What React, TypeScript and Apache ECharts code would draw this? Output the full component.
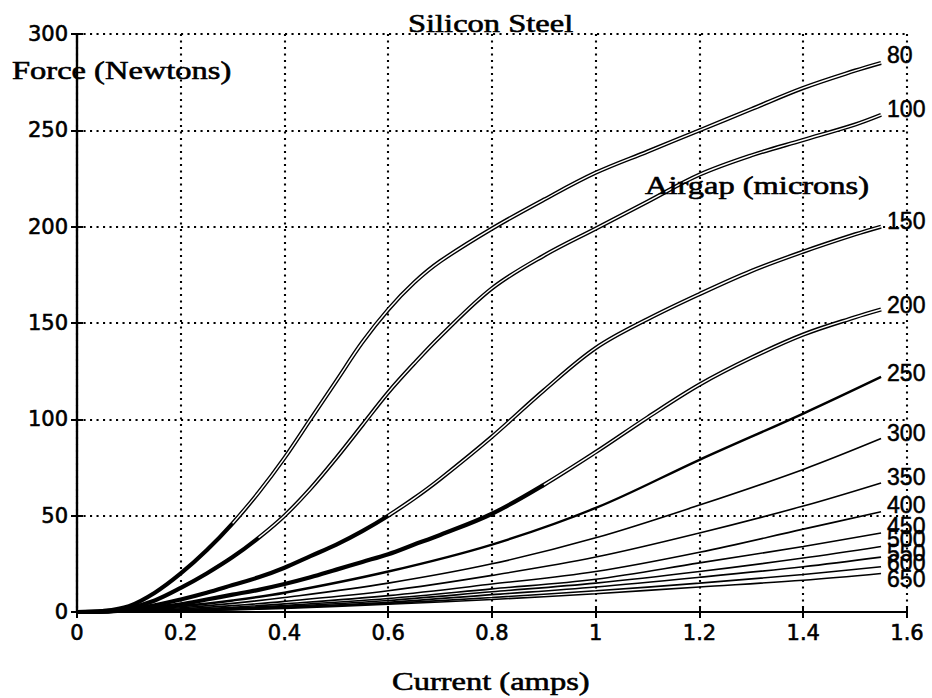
import React, { useEffect, useRef } from "react";
import * as echarts from "echarts";

// Current (amps) sample points
const X_FINE = [0, 0.05, 0.1, 0.15, 0.2, 0.25, 0.3, 0.35, 0.4, 0.45, 0.5, 0.55, 0.6, 0.65, 0.7, 0.8, 0.9, 1.0, 1.1, 1.2, 1.3, 1.4, 1.5, 1.55];
const X_COARSE = [0, 0.1, 0.2, 0.3, 0.4, 0.6, 0.8, 1.0, 1.2, 1.4, 1.55];

// Airgap (microns) for each curve
const AIRGAPS = [80, 100, 150, 200, 250, 300, 350, 400, 450, 500, 550, 600, 650];

// Force (Newtons) per airgap
const FORCE_80 = [0, 0.5, 3, 10, 20, 32, 46, 62, 80, 100, 120, 140, 157, 171, 182, 199, 214, 228, 239, 250, 261, 272, 281, 285];
const FORCE_100 = [0, 0.3, 2, 6, 12.5, 20, 28.5, 38.5, 50, 64, 80, 97, 114, 129, 143, 168, 185, 199, 213, 227, 237, 245, 253, 258];
const FORCE_150 = [0, 0.2, 1.5, 3.5, 6.5, 10, 14, 18, 23, 29, 35, 42, 50, 59, 69, 91, 115, 137, 152, 165, 177, 187, 196, 200];
const FORCE_200 = [0, 0.15, 1, 2.3, 4, 6.5, 9, 11.5, 14.5, 18, 22, 26, 30, 35, 40, 51, 66, 83, 101, 118, 132, 144, 153, 157];
const FORCE_250 = [0, 0.8, 3, 6, 10, 21, 35, 54, 79, 103, 122];
const FORCE_300 = [0, 0.6, 2.2, 4.5, 7.5, 15, 25, 38.5, 55.5, 74, 90];
const FORCE_350 = [0, 0.45, 1.6, 3.3, 5.5, 11, 19, 28.5, 41, 55, 67];
const FORCE_400 = [0, 0.35, 1.2, 2.5, 4.2, 8.5, 14.5, 21, 31, 43, 52];
const FORCE_450 = [0, 0.3, 1, 2, 3.4, 7, 12, 17, 25.5, 34, 41];
const FORCE_500 = [0, 0.25, 0.85, 1.7, 2.9, 6, 10.5, 15, 21, 28, 34];
const FORCE_550 = [0, 0.2, 0.75, 1.5, 2.5, 5, 9, 13, 18, 23.5, 28.5];
const FORCE_600 = [0, 0.18, 0.65, 1.3, 2.2, 4.5, 7.5, 11, 15, 19.5, 23.5];
const FORCE_650 = [0, 0.15, 0.55, 1.1, 1.9, 4, 6.5, 9.5, 13, 16.5, 20];

const X_TICKS = [0, 0.2, 0.4, 0.6, 0.8, 1, 1.2, 1.4, 1.6];
const Y_TICKS = [0, 50, 100, 150, 200, 250, 300];

const FORCES = [FORCE_80, FORCE_100, FORCE_150, FORCE_200, FORCE_250, FORCE_300, FORCE_350, FORCE_400, FORCE_450, FORCE_500, FORCE_550, FORCE_600, FORCE_650];

// drawing style per curve: doubled traces for the low-airgap loops
const DOUBLE_FROM: Record<number, number> = { 80: 0.3, 100: 0.35, 150: 0.6, 200: 0.9 };
const LABEL_DY: Record<number, number> = { 80: -8, 100: -6, 150: -6, 200: -5, 250: -4, 300: -6, 350: -6, 400: -7, 450: -7, 500: -7, 550: -4, 600: -4, 650: 6 };

const SERIF = "'Liberation Serif', 'Times New Roman', serif";
const SANS = "'DejaVu Sans', sans-serif";

function buildSeries() {
  const series: any[] = [];
  AIRGAPS.forEach((gap, i) => {
    const ys = FORCES[i];
    const xs = ys.length === X_FINE.length ? X_FINE : X_COARSE;
    const pts = xs.map((x, k) => [x, ys[k]]);
    const isDouble = DOUBLE_FROM[gap] !== undefined;
    series.push({
      type: "line",
      name: String(gap),
      data: pts,
      smooth: 0.35,
      symbol: "none",
      silent: true,
      z: 3,
      lineStyle: { color: "#000", width: isDouble ? 4.2 : gap === 250 ? 2.4 : 1.6 },
      endLabel: {
        show: true,
        formatter: String(gap),
        color: "#000",
        fontFamily: "'Liberation Sans', Arial, sans-serif",
        fontSize: 23,
        textBorderColor: "#000",
        textBorderWidth: 0.5,
        distance: 6,
        offset: [0, LABEL_DY[gap] || 0],
      },
    });
    if (isDouble) {
      const from = DOUBLE_FROM[gap];
      series.push({
        type: "line",
        data: pts.filter((p) => p[0] >= from),
        smooth: 0.35,
        symbol: "none",
        silent: true,
        z: 4,
        lineStyle: { color: "#fff", width: 1.4 },
      });
    }
  });
  return series;
}

function serifText(text: string, left: number, midY: number) {
  return {
    type: "text",
    x: left,
    y: midY,
    scaleX: 1.25,
    z: 10,
    style: {
      text,
      x: 0,
      y: 0,
      fill: "#000",
      stroke: "#000",
      lineWidth: 0.6,
      font: `26px ${SERIF}`,
      textAlign: "left",
      textVerticalAlign: "middle",
    },
  };
}

export default function App() {
  const ref = useRef<HTMLDivElement>(null);

  useEffect(() => {
    if (!ref.current) return;
    const chart = echarts.init(ref.current, null, { renderer: "svg" });
    const axisLine = { show: true, lineStyle: { color: "#000", width: 2.2 } };
    const tick = { show: true, inside: true, length: 6, lineStyle: { color: "#000", width: 2 } };
    const grid = { show: true, lineStyle: { color: "#000", width: 2.1, type: [2.1, 4.4] } };
    const tickText = {
      color: "#000",
      fontFamily: SANS,
      fontSize: 21,
      textBorderColor: "#000",
      textBorderWidth: 0.6,
    };
    chart.setOption({
      animation: false,
      backgroundColor: "#fff",
      grid: { left: 77, right: 25, top: 34, bottom: 86, containLabel: false },
      xAxis: [
        {
          type: "value",
          min: X_TICKS[0],
          max: X_TICKS[X_TICKS.length - 1],
          interval: 0.2,
          axisLine,
          axisTick: tick,
          splitLine: grid,
          axisLabel: {
            ...tickText,
            margin: 10,
            formatter: (v: number) => String(Math.round(v * 10) / 10),
          },
        },
        {
          type: "value",
          position: "top",
          min: 0,
          max: 1.6,
          interval: 0.2,
          axisLine,
          axisTick: tick,
          splitLine: { show: false },
          axisLabel: { show: false },
        },
      ],
      yAxis: [
        {
          type: "value",
          min: Y_TICKS[0],
          max: Y_TICKS[Y_TICKS.length - 1],
          interval: 50,
          axisLine,
          axisTick: tick,
          splitLine: grid,
          axisLabel: { ...tickText, margin: 9 },
        },
        {
          type: "value",
          position: "right",
          min: 0,
          max: 300,
          interval: 50,
          axisLine,
          axisTick: tick,
          splitLine: { show: false },
          axisLabel: { show: false },
        },
      ],
      graphic: [
        serifText("Silicon Steel", 408, 23),
        serifText("Force (Newtons)", 12, 70),
        serifText("Airgap (microns)", 645, 185),
        serifText("Current (amps)", 392, 681),
      ],
      series: buildSeries(),
    });
    return () => chart.dispose();
  }, []);

  return (
    <div
      ref={ref}
      style={{ position: "fixed", left: 0, top: 0, width: 932, height: 698, background: "#fff" }}
    />
  );
}
